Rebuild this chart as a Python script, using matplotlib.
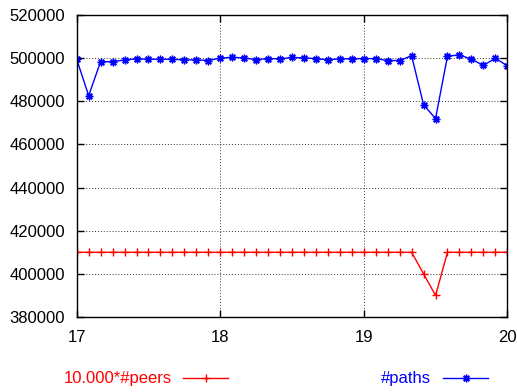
import matplotlib
matplotlib.use("Agg")
import matplotlib.pyplot as plt
from matplotlib.lines import Line2D
import numpy as np

plt.rcParams['font.family'] = ['Liberation Sans', 'DejaVu Sans']

# x positions: 17 .. 20 in steps of 1/12 (37 samples)
x_start, x_end, n_points = 17, 20, 37
paths = [499500, 482600, 498400, 498300, 499200, 499700, 499500, 499500, 499500,
         499200, 499200, 498900, 500000, 500400, 500100, 499300, 499800, 499700,
         500300, 500100, 499800, 499200, 499700, 499700, 499800, 499800, 498900,
         498900, 501100, 478400, 472000, 500900, 501500, 499500, 496600, 500000,
         496400]
peers10k = [410000] * 29 + [400000, 390000] + [410000] * 6
x_ticks = [17, 18, 19, 20]
y_ticks = [380000, 400000, 420000, 440000, 460000, 480000, 500000, 520000]
label_peers = "10.000*#peers"
label_paths = "#paths"

x = np.linspace(x_start, x_end, n_points)

W, H = 517, 392
fig = plt.figure(figsize=(W / 100, H / 100), dpi=100)
ax = fig.add_axes([76.7 / W, 1 - 317 / H, (507.3 - 76.7) / W, (317 - 15) / H])

asterisk = (8, 2, 0)
ax.plot(x, peers10k, color='#ff0000', lw=1.0, marker='+', ms=5.5, mew=1.0)
ax.plot(x, paths, color='#0000ff', lw=1.0, marker=asterisk, ms=5.5, mew=1.0)

ax.set_xlim(17, 20)
ax.set_ylim(380000, 520000)
ax.set_xticks(x_ticks)
ax.set_yticks(y_ticks)
ax.set_xticklabels([str(v) for v in x_ticks])
ax.set_yticklabels([str(v) for v in y_ticks])
ax.tick_params(direction='in', length=5, width=1, top=True, right=True,
               labelsize=12, colors='black')
ax.tick_params(axis='y', pad=8.5)
ax.tick_params(axis='x', pad=9)
ax.grid(True, color='#333333', linestyle=(0, (1, 2)), linewidth=0.7)
for s in ax.spines.values():
    s.set_linewidth(1.0)

# legend (gnuplot style, below plot)
ly = 1 - 378 / H
fig.text(171.5 / W, ly, label_peers, color='#ff0000', ha='right', va='center', fontsize=12)
fig.add_artist(Line2D([183 / W, 228 / W], [ly, ly], color='#ff0000', lw=1.0,
                      transform=fig.transFigure))
fig.add_artist(Line2D([205.5 / W], [ly], color='#ff0000', marker='+', ms=5.5, mew=1.0,
                      transform=fig.transFigure))
fig.text(431 / W, ly, label_paths, color='#0000ff', ha='right', va='center', fontsize=12)
fig.add_artist(Line2D([442.7 / W, 488.3 / W], [ly, ly], color='#0000ff', lw=1.0,
                      transform=fig.transFigure))
fig.add_artist(Line2D([465.5 / W], [ly], color='#0000ff', marker=asterisk, ms=5.5, mew=1.0,
                      transform=fig.transFigure))

fig.savefig("out.png", dpi=100)
